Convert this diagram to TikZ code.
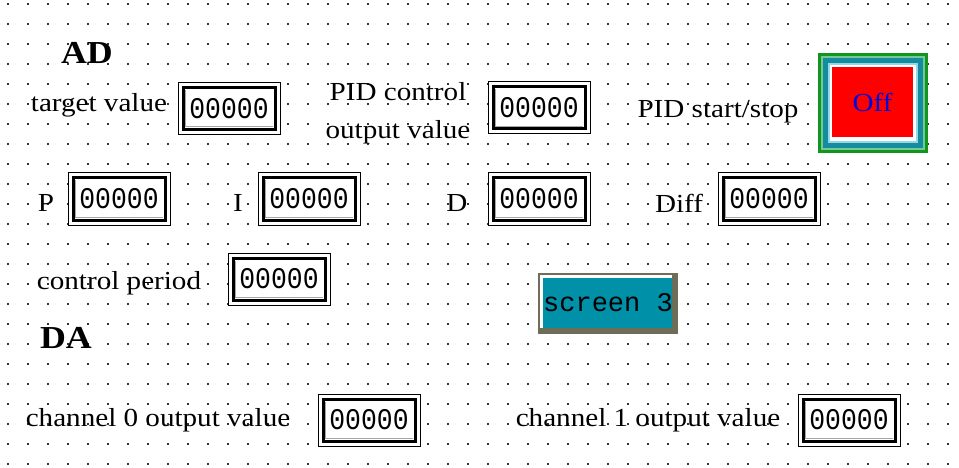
\documentclass[tikz,border=0pt]{standalone}
\usepackage{fontspec}
\usepackage{xcolor}
\newfontfamily\labelfont[FakeStretch=1.12]{Liberation Serif}
\newfontfamily\valfont[FakeStretch=0.88]{Liberation Mono}
\newfontfamily\btnfont{Liberation Mono}
\definecolor{offgreen}{RGB}{16,150,30}
\definecolor{offlight}{RGB}{120,200,150}
\definecolor{offteal}{RGB}{20,140,160}
\definecolor{offcyan}{RGB}{150,215,230}
\definecolor{btnteal}{RGB}{0,144,168}
\definecolor{btnolive}{RGB}{110,110,88}

\begin{document}
\begin{tikzpicture}[x=1pt,y=-1pt,
  lbl/.style={inner sep=0pt,font=\labelfont\fontsize{26}{38}\selectfont,align=center},
  head/.style={inner sep=0pt,font=\labelfont\fontsize{32}{36}\selectfont\bfseries},
  valbox/.style={draw=black,line width=1pt,fill=white,minimum width=102pt,minimum height=52pt,inner sep=0pt,
    font=\valfont\fontsize{30}{32}\selectfont,
    path picture={
      \draw[line width=3pt] ([shift={(5pt,-5pt)}]path picture bounding box.north west) rectangle ([shift={(-5pt,5pt)}]path picture bounding box.south east);
      \draw[gray!70,line width=1pt] ([shift={(7.5pt,-7.5pt)}]path picture bounding box.north west) |- ([shift={(-7.5pt,7.5pt)}]path picture bounding box.south east);
    }},
  offbtn/.style={fill=red,minimum width=81pt,minimum height=70pt,inner sep=0pt,text=blue!85!black,font=\labelfont\fontsize{26}{30}\selectfont},
  scrbtn/.style={inner sep=0pt,font=\btnfont\fontsize{27}{30}\selectfont}
]
\useasboundingbox[fill=white] (0,0) rectangle (959,468);

% dot grid
\foreach \x in {8,28,...,948}
  \foreach \y in {4,24,...,464}
    \fill[black!80] (\x-0.75,\y-0.75) rectangle ++(1.5,1.5);

% AD section
\node[head] (adhead) at (87,53) {AD};
\node[lbl] (targetlbl) at (99,105) {target value};
\node[valbox] (target) at (229,108.5) {00000};
\node[lbl] (pidoutlbl) at (398,113) {PID control\\output value};
\node[valbox] (pidout) at (539,108) {00000};
\node[lbl] (startlbl) at (718,112) {PID start/stop};

\foreach \inset/\col in {0/offgreen,3/offlight,5/offteal,10/offcyan,12/white}
  \fill[\col] (818+\inset,53+\inset) rectangle (928-\inset,153-\inset);
\node[offbtn] (offbtn) at (872.5,102) {Off};

\node[lbl] (plbl) at (46,203) {P};
\node[valbox] (pval) at (119,199) {00000};
\node[lbl] (ilbl) at (238,203) {I};
\node[valbox] (ival) at (309,199) {00000};
\node[lbl] (dlbl) at (457,203) {D};
\node[valbox] (dval) at (539,199) {00000};
\node[lbl] (difflbl) at (679,203) {Diff};
\node[valbox] (diffval) at (769,199) {00000};

\node[lbl] (periodlbl) at (119,283) {control period};
\node[valbox] (period) at (279,279) {00000};

% screen button
\fill[btnolive] (538,273) rectangle (678,334);
\fill[white] (540,275) rectangle (672,328);
\fill[btnteal] (543,278) rectangle (672,328);
\node[scrbtn] (screen) at (608,303) {screen 3};

% DA section
\node[head] (dahead) at (66,338) {DA};
\node[lbl] (ch0lbl) at (158,420) {channel 0 output value};
\node[valbox] (ch0) at (369,420) {00000};
\node[lbl] (ch1lbl) at (648,420) {channel 1 output value};
\node[valbox] (ch1) at (849,420) {00000};
\end{tikzpicture}
\end{document}
